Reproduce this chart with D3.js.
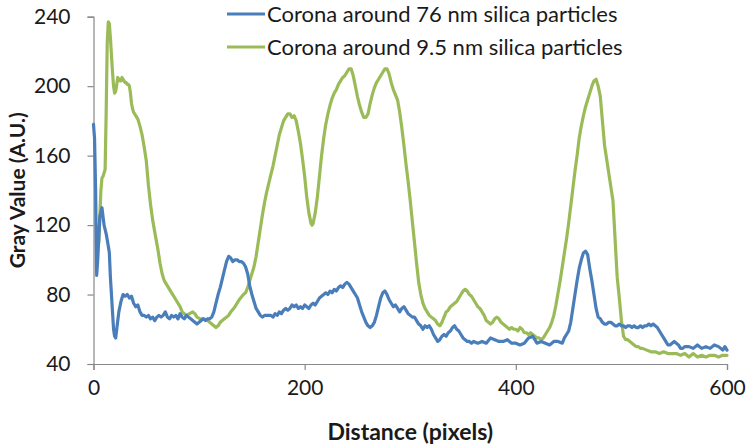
<!DOCTYPE html>
<html>
<head>
<meta charset="utf-8">
<script src="https://cdn.jsdelivr.net/npm/d3@7/dist/d3.min.js"></script>
<style>
  html, body { margin: 0; padding: 0; background: #fff; }
  svg { display: block; }
</style>
</head>
<body>
<svg id="chart" width="750" height="448"></svg>
<script>
// ---------- DATA ----------
const seriesNames = ["Corona around 76 nm silica particles", "Corona around 9.5 nm silica particles"];
const xTicks = [0, 200, 400, 600];
const yTicks = [40, 80, 120, 160, 200, 240];
const xTitle = "Distance (pixels)";
const yTitle = "Gray Value (A.U.)";

// Blue: corona around 76 nm particles  [distance, gray value]
const blueX = [0,1,2,3,4,6,8,10,12,14,15,16,18,19,20,21,22,24,26,28,30,32,34,36,38,40,42,44,46,48,50,52,54,56,58,60,62,64,66,68,70,72,74,76,78,80,82,84,86,88,90,92,94,96,98,100,102,104,106,108,110,112,114,116,118,120,122,124,126,128,130,132,134,136,138,140,142,144,146,148,150,152,154,156,158,160,162,164,166,168,170,172,174,176,178,180,182,184,186,188,190,192,194,196,198,200,202,204,206,208,210,212,214,216,218,220,222,224,226,228,230,232,234,236,238,240,242,244,246,248,250,252,254,256,258,260,262,264,266,268,270,272,274,276,278,280,282,284,286,288,290,292,294,296,298,300,302,304,306,308,310,312,314,316,318,320,322,324,326,328,330,332,334,336,338,340,342,344,346,348,350,352,354,356,358,360,364,368,372,376,380,384,388,392,396,400,404,408,412,416,418,420,424,428,432,436,440,444,446,448,450,452,454,456,458,460,462,464,466,468,470,472,474,476,478,480,482,484,486,488,490,492,494,496,498,500,502,504,506,508,510,512,514,516,518,520,522,524,526,528,530,532,534,536,538,540,542,544,546,548,550,552,554,556,558,560,564,568,572,576,580,584,588,592,596,598,600];
const blueY = [178,170,140,91,100,125,130,120,115,108,104,90,70,60,56,55,60,70,76,80,79,80,78,79,75,73,74,70,68,68,67,68,66,67,65,67,68,67,68,70,67,66,68,67,68,66,69,67,66,68,67,66,65,64,63,64,65,66,65,66,66,67,70,75,80,84,89,94,99,102,101,99,100,100,99,99,98,96,92,85,80,76,72,70,68,67,68,68,68,68,67,69,68,70,69,71,72,71,72,74,73,74,72,73,72,74,73,72,74,75,74,76,78,79,80,81,80,82,81,83,82,84,85,84,86,87,86,84,82,80,78,74,70,67,64,62,61,62,64,68,73,78,81,82,80,77,75,73,74,72,70,72,73,71,69,68,67,67,65,63,62,60,62,61,62,60,57,55,53,54,56,57,56,58,59,61,62,60,59,57,55,54,53,53,52,53,52,53,52,55,54,53,53,54,52,52,51,52,55,56,54,52,53,52,51,53,53,52,55,57,59,64,72,80,88,95,100,104,105,103,95,88,80,72,67,66,64,63,63,64,64,63,62,62,63,62,62,61,62,62,61,62,61,61,62,61,62,62,63,62,63,62,61,59,57,55,53,51,51,52,53,52,51,49,49,50,50,49,51,49,50,49,51,50,48,50,48];

// Green: corona around 9.5 nm particles  [distance, gray value]
const greenX = [5,6,7,8,9,10,11,12,13,14,15,16,17,18,19,20,21,22,23,24,25,26,27,28,29,30,31,32,33,34,35,36,37,38,40,42,44,46,48,50,52,54,56,58,61,63,65,67,70,73,76,79,82,84,86,88,91,94,96,98,101,104,108,110,112,114,116,118,120,122,124,126,128,130,134,138,142,144,146,148,150,152,154,156,158,160,162,164,166,168,170,172,174,176,178,180,182,184,186,188,190,192,194,196,198,200,202,204,206,207,208,210,212,214,216,218,220,222,224,226,228,230,232,234,236,238,240,242,244,246,248,250,252,254,256,258,260,262,264,266,268,270,272,274,276,278,280,282,284,286,288,290,292,294,296,298,300,302,304,306,308,310,312,314,316,318,320,322,324,326,328,330,332,334,336,338,340,342,344,346,348,350,352,354,356,358,360,362,364,366,368,370,372,374,376,378,380,382,384,386,388,390,392,394,396,398,400,402,404,406,408,410,412,414,416,418,420,422,424,426,428,430,432,434,436,438,440,442,444,446,448,450,452,454,456,458,460,462,464,466,468,470,472,474,476,478,480,482,484,486,488,490,492,494,496,498,500,502,504,506,508,510,512,514,516,518,520,524,528,532,536,540,544,548,552,556,560,564,568,572,576,580,584,588,592,596,600];
const greenY = [110,125,140,147,148,150,152,185,225,237,236,228,218,208,200,196,197,201,205,204,203,203,205,204,203,202,202,201,201,200,196,190,187,185,183,181,177,172,165,157,143,132,123,116,106,98,92,88,85,82,79,76,73,70,69,68,69,70,69,67,66,66,65,64,63,62,61,62,64,65,66,67,68,70,73,77,80,81,84,88,92,96,102,110,118,126,133,139,144,149,154,160,166,172,176,180,182,184,184,182,183,180,174,167,158,148,136,127,121,120,121,127,136,148,160,170,178,184,189,193,196,198,201,203,205,206,208,210,210,206,200,194,189,185,182,182,184,190,195,199,202,204,206,208,210,210,207,202,198,195,192,185,176,166,155,145,134,122,110,98,87,80,75,72,70,68,67,66,65,63,62,64,67,70,71,73,74,75,76,78,80,82,83,82,80,79,77,75,73,72,70,68,65,64,63,64,66,67,66,64,63,62,61,60,61,60,60,59,61,60,58,58,57,58,57,56,55,55,54,55,57,59,61,64,68,74,81,88,96,104,112,121,131,141,151,160,170,177,183,188,192,196,200,203,204,200,194,180,166,158,150,142,134,112,90,78,65,56,54,54,53,52,51,50,50,49,49,48,47,47,46,47,46,46,46,45,46,44,46,44,45,44,45,45,44,45,45];

const seriesColors = ["#4a7ebb", "#9bbb59"];

// ---------- CHART ----------
const svg = d3.select("#chart");
const margin = { left: 93.5, right: 23, top: 16.7, bottom: 84 };
const W = 750, H = 448;

const x = d3.scaleLinear().domain([0, 600]).range([margin.left, W - margin.right]);
const y = d3.scaleLinear().domain([40, 240]).range([H - margin.bottom, margin.top]);

const axisColor = "#888888";
const font = "Lato, 'Open Sans', sans-serif";

// Y axis
const yAxis = svg.append("g")
  .attr("transform", `translate(${x(0)},0)`)
  .call(d3.axisLeft(y).tickValues(yTicks).tickSize(6).tickPadding(17).tickFormat(d3.format("d")));
// X axis
const xAxis = svg.append("g")
  .attr("transform", `translate(0,${y(40)})`)
  .call(d3.axisBottom(x).tickValues(xTicks).tickSize(6).tickPadding(10).tickFormat(d3.format("d")));

[yAxis, xAxis].forEach(g => {
  g.select(".domain").attr("stroke", axisColor).attr("stroke-width", 1.2);
  g.selectAll(".tick line").attr("stroke", axisColor).attr("stroke-width", 1.2);
  g.selectAll(".tick text")
    .attr("fill", "#1a1a1a")
    .style("font-family", font)
    .style("font-size", "21px");
});

// Lines
const line = d3.line().x(d => x(d[0])).y(d => y(d[1]));
const blueData = blueX.map((v, i) => [v, blueY[i]]);
const greenData = greenX.map((v, i) => [v, greenY[i]]);

svg.append("path").datum(greenData)
  .attr("d", line).attr("fill", "none")
  .attr("stroke", seriesColors[1]).attr("stroke-width", 3.2)
  .attr("stroke-linejoin", "round").attr("stroke-linecap", "round");
svg.append("path").datum(blueData)
  .attr("d", line).attr("fill", "none")
  .attr("stroke", seriesColors[0]).attr("stroke-width", 3.2)
  .attr("stroke-linejoin", "round").attr("stroke-linecap", "round");

// Legend
const legend = svg.append("g");
seriesNames.forEach((name, i) => {
  const cy = 14 + i * 33;
  legend.append("line")
    .attr("x1", 227).attr("x2", 265).attr("y1", cy).attr("y2", cy)
    .attr("stroke", seriesColors[i]).attr("stroke-width", 3.2);
  legend.append("text")
    .attr("x", 267).attr("y", cy + 8)
    .attr("fill", "#1a1a1a")
    .style("font-family", font).style("font-size", "22px")
    .text(name);
});

// Axis titles
svg.append("text")
  .attr("x", (x(0) + x(600)) / 2).attr("y", 440)
  .attr("text-anchor", "middle")
  .attr("fill", "#1a1a1a")
  .style("font-family", font).style("font-size", "23px").style("font-weight", "bold")
  .text(xTitle);

svg.append("text")
  .attr("transform", `translate(25,${(y(40) + y(240)) / 2}) rotate(-90)`)
  .attr("text-anchor", "middle")
  .attr("fill", "#1a1a1a")
  .style("font-family", font).style("font-size", "21px").style("font-weight", "bold")
  .text(yTitle);
</script>
</body>
</html>
